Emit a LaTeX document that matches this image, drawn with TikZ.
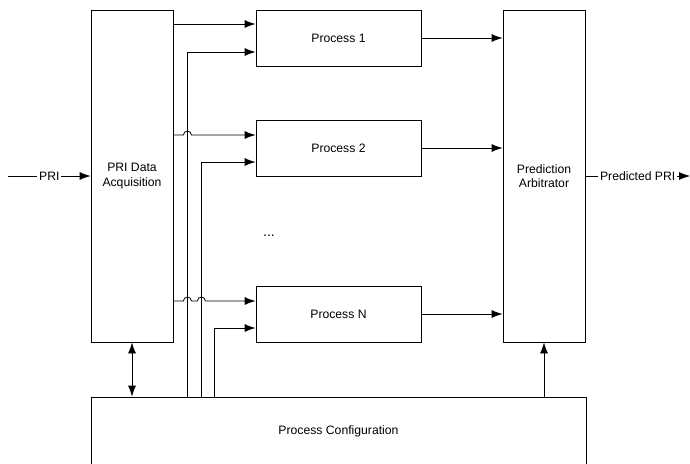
\documentclass[tikz,border=0pt]{standalone}
\usepackage{fontspec}
\setmainfont{Liberation Sans}
\usetikzlibrary{arrows.meta,positioning}

\tikzset{block/.style={draw, line width=0.8pt, align=center, inner sep=0pt}}

\begin{document}
\begin{tikzpicture}[x=1pt,y=-1pt,line width=0.8pt,font=\fontsize{12.2}{14.5}\selectfont,>={Latex[length=11pt,width=8pt]}]
	\useasboundingbox (0,0) rectangle (690,463);
	\node[block, minimum width=82pt, minimum height=332pt] (acq) at (132,176) {PRI Data\\Acquisition};
	\node[block, minimum width=165pt, minimum height=56pt] (p1) at (338.5,38) {Process 1};
	\node[block, minimum width=165pt, minimum height=56pt] (p2) at (338.5,148) {Process 2};
	\node[block, minimum width=165pt, minimum height=56pt] (pn) at (338.5,314) {Process N};
	\node[block, minimum width=82pt, minimum height=332pt] (arb) at (544,176) {Prediction\\Arbitrator};
	\node[block, minimum width=495pt, minimum height=68pt] (cfg) at (338.5,431) {Process Configuration};
	\node[font=\fontsize{14}{16}\selectfont] (dots) at (269,236) {...};
	% inputs of the processes
	\coordinate (p1a) at ([yshift=14pt]p1.west);
	\coordinate (p1b) at ([yshift=-14pt]p1.west);
	\coordinate (p2a) at ([yshift=13pt]p2.west);
	\coordinate (p2b) at ([yshift=-14pt]p2.west);
	\coordinate (pna) at ([yshift=13pt]pn.west);
	\coordinate (pnb) at ([yshift=-14pt]pn.west);
	\coordinate (k1) at (187,0);
	\coordinate (k2) at (201,0);
	\coordinate (k3) at (214,0);
	\coordinate (in) at (8,176);
	\coordinate (out) at (690,176);
	% PRI in and out
	\draw [->] (in)--(acq.west) node [midway,fill=white,inner sep=2pt] {PRI};
	\draw [->] (arb.east)--(out) node [midway,fill=white,inner sep=2pt] {Predicted PRI};
	% acquisition to processes:
	\draw [->] (acq.east |- p1a)--(p1a);
	\draw [->] (acq.east |- p2a)--++(10,0) arc[start angle=180,end angle=0,radius=4pt]--(p2a);
	\draw [->] (acq.east |- pna)--++(10,0) arc[start angle=180,end angle=0,radius=4pt]--++(6,0) arc[start angle=180,end angle=0,radius=4pt]--(pna);
	% configuration to processes:
	\draw [->] (cfg.north -| k1) |- (p1b);
	\draw [->] (cfg.north -| k2) |- (p2b);
	\draw [->] (cfg.north -| k3) |- (pnb);
	% processes to arbitrator:
	\draw [->] (p1.east)--(arb.west |- p1.east);
	\draw [->] (p2.east)--(arb.west |- p2.east);
	\draw [->] (pn.east)--(arb.west |- pn.east);
	\draw [->] (cfg.north -| arb.south)--(arb.south);
	\draw [<->] (acq.south)--(cfg.north -| acq.south);
\end{tikzpicture}
\end{document}
